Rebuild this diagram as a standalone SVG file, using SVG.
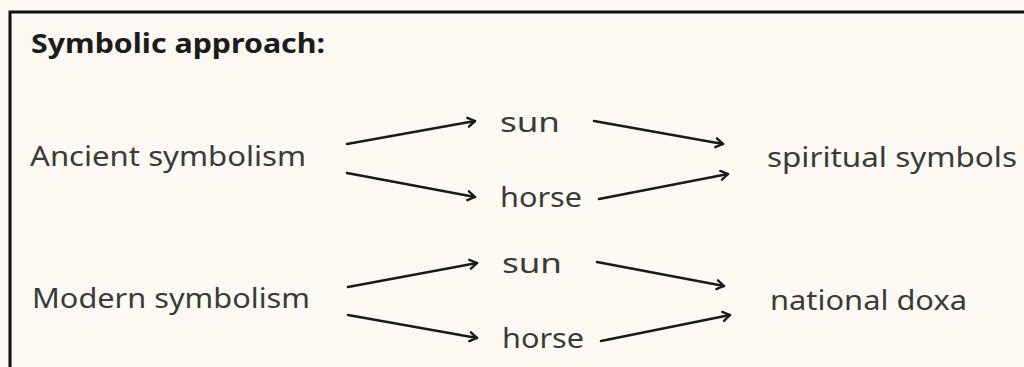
<svg xmlns="http://www.w3.org/2000/svg" width="1024" height="367" viewBox="0 0 1024 367">
<defs>
<style>
.t{font-family:"Noto Sans","Open Sans",sans-serif;font-size:27px;fill:#3a3a3a}
.h{font-family:"Noto Sans","Open Sans",sans-serif;font-size:27px;font-weight:bold;fill:#1c1c1c}
.c{stroke:#1a1a1a;stroke-width:2.6;fill:none;stroke-linecap:round}
</style>
<marker id="ah" viewBox="0 0 12 12" refX="10" refY="6" markerWidth="12" markerHeight="12" markerUnits="userSpaceOnUse" orient="auto">
<path d="M3,1.5 L10,6 L3,10.5" fill="none" stroke="#1a1a1a" stroke-width="2.4" stroke-linecap="round" stroke-linejoin="round"/>
</marker>
</defs>
<rect x="0" y="0" width="1024" height="367" fill="#fdfaf3"/>
<path d="M10,367 V12 H1024" fill="none" stroke="#111" stroke-width="3"/>
<g id="title"><text class="h" x="31" y="53" textLength="294" lengthAdjust="spacingAndGlyphs">Symbolic approach:</text></g>
<g id="ancient"><text class="t" x="30" y="166" textLength="276" lengthAdjust="spacingAndGlyphs">Ancient symbolism</text></g>
<g id="modern"><text class="t" x="32" y="308" textLength="278" lengthAdjust="spacingAndGlyphs">Modern symbolism</text></g>
<g id="sun1"><text class="t" x="500" y="132" textLength="60" lengthAdjust="spacingAndGlyphs">sun</text></g>
<g id="horse1"><text class="t" x="500" y="207" textLength="82" lengthAdjust="spacingAndGlyphs">horse</text></g>
<g id="sun2"><text class="t" x="502" y="273" textLength="60" lengthAdjust="spacingAndGlyphs">sun</text></g>
<g id="horse2"><text class="t" x="502" y="348" textLength="82" lengthAdjust="spacingAndGlyphs">horse</text></g>
<g id="spiritual"><text class="t" x="767" y="167" textLength="250" lengthAdjust="spacingAndGlyphs">spiritual symbols</text></g>
<g id="doxa"><text class="t" x="770" y="310" textLength="197" lengthAdjust="spacingAndGlyphs">national doxa</text></g>
<g id="connectors">
<line class="c" x1="347" y1="144" x2="475" y2="121" marker-end="url(#ah)"/>
<line class="c" x1="347" y1="173" x2="475" y2="197" marker-end="url(#ah)"/>
<line class="c" x1="594" y1="121" x2="723" y2="144" marker-end="url(#ah)"/>
<line class="c" x1="599" y1="199" x2="728" y2="174" marker-end="url(#ah)"/>
<line class="c" x1="348" y1="287" x2="477" y2="263" marker-end="url(#ah)"/>
<line class="c" x1="348" y1="315" x2="477" y2="338" marker-end="url(#ah)"/>
<line class="c" x1="597" y1="262" x2="724" y2="286" marker-end="url(#ah)"/>
<line class="c" x1="601" y1="341" x2="730" y2="315" marker-end="url(#ah)"/>
</g>
</svg>
